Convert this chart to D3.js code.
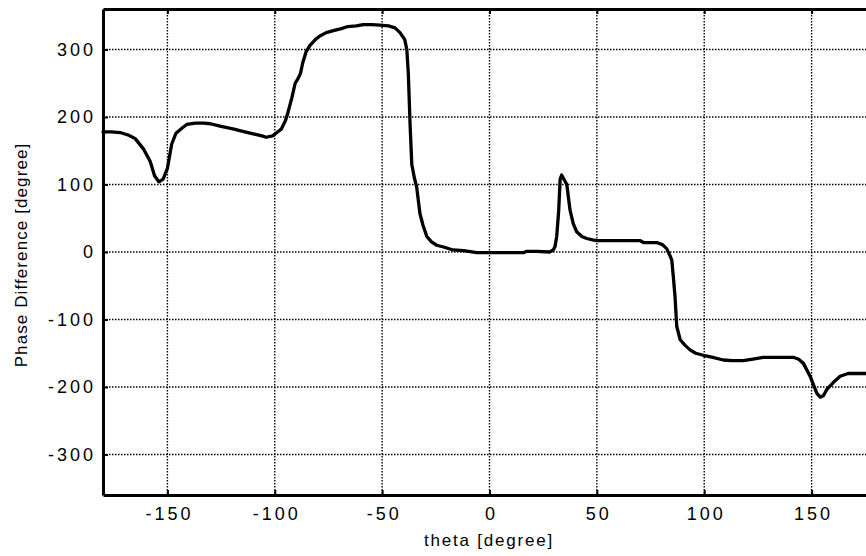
<!DOCTYPE html>
<html>
<head>
<meta charset="utf-8">
<script src="https://cdn.jsdelivr.net/npm/d3@7"></script>
<style>
  body { margin: 0; background: #fff; }
  text { font-family: "Liberation Sans", Arial, sans-serif; fill: #000; }
</style>
</head>
<body>
<div id="chart"></div>
<script>
// theta [degree] and measured phase difference [degree]
const theta = [-180, -176, -172, -168, -165, -161, -158, -156, -154, -152, -150, -148, -146, -143, -141,
  -137, -133, -130, -125, -119, -114, -110, -106, -104, -101, -99, -97, -95, -94, -92, -90.5, -89, -88,
  -87, -85.5, -83.6, -81, -79, -76, -72.7, -69, -66, -62, -58.8, -55, -51, -47, -44, -41.7, -39.5, -38.5,
  -37.8, -37, -36.2, -35, -33.9, -32.4, -31, -29.2, -27, -24.6, -21, -17, -12, -6, 0, 5, 10, 15.8, 17.3,
  22, 28, 29.7, 30.5, 31.3, 32.2, 32.9, 33.6, 36, 37.5, 39, 40.6, 43, 45.3, 48, 50, 60, 70, 71.7, 77.9,
  80.5, 82.5, 84, 84.9, 85.7, 86.4, 87.2, 88.8, 91, 93.4, 96, 99.6, 104, 108.9, 113, 118.2, 122, 127.5,
  135, 141.5, 144, 146.2, 149.3, 152.4, 154, 155.5, 157, 160.2, 163.3, 167, 175, 180];
const phase = [178, 178, 177, 173, 168, 152, 134, 113, 104, 108, 124, 160, 176, 184, 189,
  191, 191, 190, 186, 182, 178, 175, 172, 170, 172, 177, 182, 195, 205, 229, 250, 258, 265,
  280, 296, 306, 315, 320, 325, 328, 331, 334, 335, 337, 337, 336, 335, 332, 325, 315, 300,
  264, 190, 130, 110, 96, 57, 40, 23, 15, 10, 7, 3, 2, -1, -1, -1, -1, -1, 1,
  1, 0, 3, 8, 23, 60, 108, 114, 100, 62, 42, 30, 23, 20, 18, 17, 17, 17, 14, 14,
  11, 5, -5, -12, -40, -66, -110, -130, -138, -145, -150, -153, -156, -160, -161, -161, -159, -156,
  -156, -156, -159, -165, -184, -209, -215, -213, -204, -193, -184, -180, -180, -180];

const xTicks = [-150, -100, -50, 0, 50, 100, 150];
const yTicks = [-300, -200, -100, 0, 100, 200, 300];

const width = 866, height = 556;
const plotLeft = 103, plotTop = 9, plotRight = 876, plotBottom = 495;

const svg = d3.select('#chart')
  .append('svg')
  .attr('width', width)
  .attr('height', height);

const x = d3.scaleLinear().domain([-180, 180]).range([plotLeft, plotRight]);
const y = d3.scaleLinear().domain([-360, 360]).range([plotBottom, plotTop]);

// dotted grid
const grid = svg.append('g')
  .attr('stroke', '#000')
  .attr('stroke-width', 1.4)
  .attr('stroke-dasharray', '1.5,1.5');

grid.selectAll('.gx')
  .data(xTicks)
  .enter()
  .append('line')
  .attr('x1', d => x(d)).attr('x2', d => x(d))
  .attr('y1', plotTop).attr('y2', plotBottom);

grid.selectAll('.gy')
  .data(yTicks)
  .enter()
  .append('line')
  .attr('x1', plotLeft).attr('x2', plotRight)
  .attr('y1', d => y(d)).attr('y2', d => y(d));

// axes with inward ticks
const fmt = d => String(d);

const xAxis = svg.append('g')
  .attr('transform', 'translate(0,' + plotBottom + ')')
  .call(d3.axisBottom(x).tickValues(xTicks).tickFormat(fmt).tickSizeInner(-5).tickSizeOuter(0).tickPadding(12));

const xTop = svg.append('g')
  .attr('transform', 'translate(0,' + plotTop + ')')
  .call(d3.axisTop(x).tickValues(xTicks).tickSizeInner(-5).tickSizeOuter(0).tickFormat(''));

const yAxis = svg.append('g')
  .attr('transform', 'translate(' + plotLeft + ',0)')
  .call(d3.axisLeft(y).tickValues(yTicks).tickFormat(fmt).tickSizeInner(-5).tickSizeOuter(0).tickPadding(7));

[xAxis, xTop, yAxis].forEach(g => {
  g.select('.domain').attr('stroke', '#000').attr('stroke-width', 3);
  g.selectAll('.tick line').attr('stroke', '#000').attr('stroke-width', 2);
  g.selectAll('.tick text')
    .style('font-family', '"Liberation Sans", Arial, sans-serif')
    .style('font-size', '18px')
    .style('letter-spacing', '3px')
    .attr('fill', '#000');
});
xAxis.selectAll('.tick text').attr('dx', '1.5px');

// the curve
const line = d3.line()
  .x((d, i) => x(theta[i]))
  .y(d => y(d))
  .curve(d3.curveLinear);

svg.append('path')
  .datum(phase)
  .attr('fill', 'none')
  .attr('stroke', '#000')
  .attr('stroke-width', 3.3)
  .attr('stroke-linejoin', 'round')
  .attr('stroke-linecap', 'round')
  .attr('d', line);

// axis titles
svg.append('text')
  .attr('x', 489)
  .attr('y', 546)
  .attr('text-anchor', 'middle')
  .style('font-size', '17px')
  .style('letter-spacing', '1.8px')
  .text('theta [degree]');

svg.append('text')
  .attr('transform', 'translate(27,255) rotate(-90)')
  .attr('text-anchor', 'middle')
  .style('font-size', '17px')
  .style('letter-spacing', '1.1px')
  .text('Phase Difference [degree]');
</script>
</body>
</html>
